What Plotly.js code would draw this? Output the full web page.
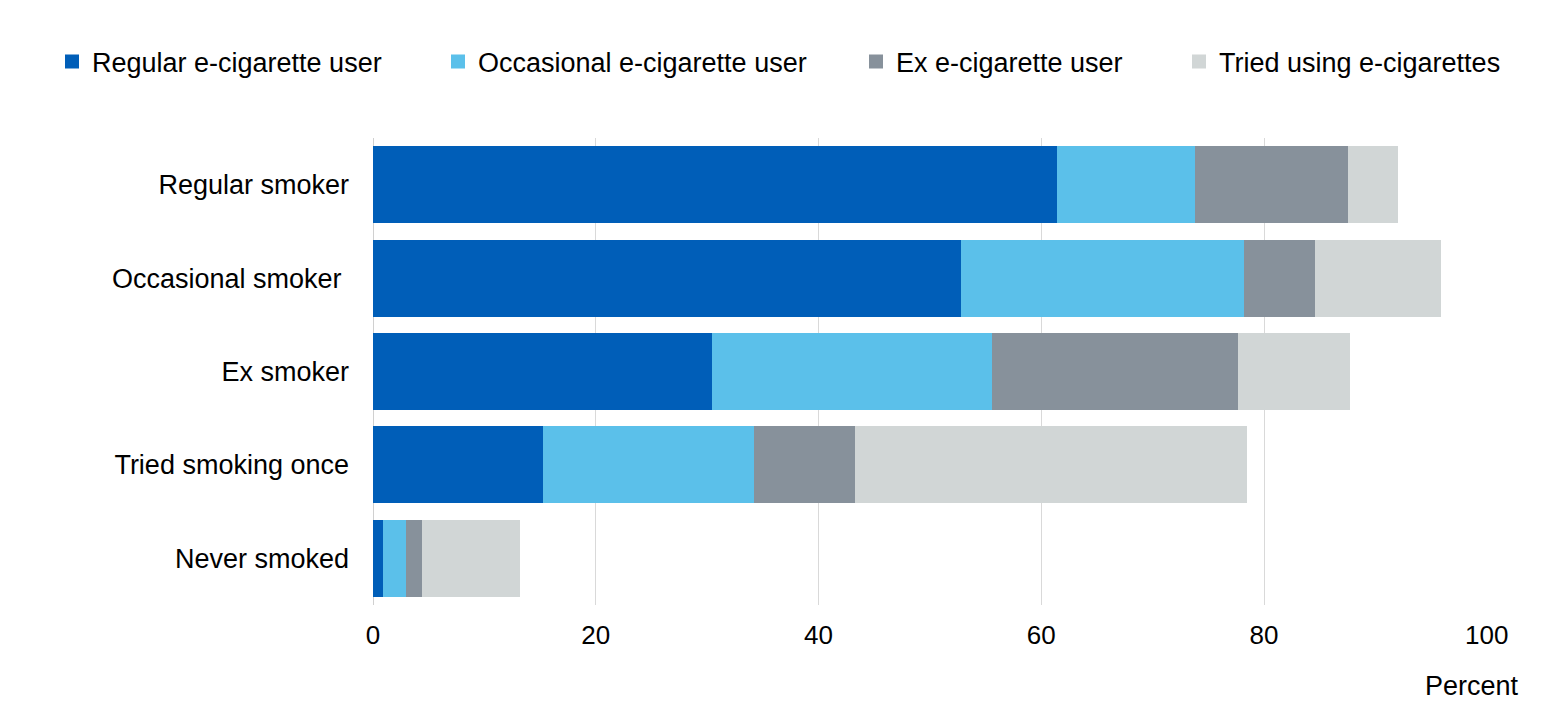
<!DOCTYPE html>
<html>
<head>
<meta charset="utf-8">
<script src="https://cdn.plot.ly/plotly-3.0.1.min.js"></script>
<style>html,body{margin:0;padding:0;background:#fff;}#chart{width:1559px;height:715px;}</style>
</head>
<body>
<div id="chart"></div>
<script>
const categories = ["Regular smoker", "Occasional smoker\u00a0", "Ex smoker", "Tried smoking once", "Never smoked"];
const seriesNames = ["Regular e-cigarette user", "Occasional e-cigarette user", "Ex e-cigarette user", "Tried using e-cigarettes"];
const regularUser    = [61.4, 52.8, 30.4, 15.3, 0.9];
const occasionalUser = [12.4, 25.4, 25.2, 18.9, 2.1];
const exUser         = [13.7, 6.4, 22.1, 9.1, 1.4];
const triedUser      = [4.5, 11.3, 10.0, 35.2, 8.8];
const xTicks = [0, 20, 40, 60, 80, 100];

const colors = ["#005EB8", "#5BC0EA", "#87919B", "#D1D6D6"];
const values = [regularUser, occasionalUser, exUser, triedUser];
const legendIds = ["legend", "legend2", "legend3", "legend4"];
const markerLeftPx = [70, 456, 874, 1197];

const plotLeft = 373, plotWidth = 1114, plotTop = 138, plotHeight = 467;

const barTraces = values.map((v, i) => ({
  type: "bar",
  orientation: "h",
  name: seriesNames[i],
  y: categories,
  x: v,
  marker: {color: colors[i], line: {width: 0}},
  showlegend: false,
  hovertemplate: "%{y}: %{x}<extra>" + seriesNames[i] + "</extra>"
}));

// legend-only entries with larger square swatches
const legendTraces = seriesNames.map((n, i) => ({
  type: "scatter",
  mode: "markers",
  name: n,
  x: [null],
  y: [null],
  marker: {symbol: "square", size: 14, color: colors[i], line: {width: 0}},
  legend: legendIds[i],
  showlegend: true,
  hoverinfo: "skip"
}));

const font = {family: "Liberation Sans, Arial, sans-serif", size: 27, color: "#000"};
const tickFont = {family: "Liberation Sans, Arial, sans-serif", size: 26, color: "#000"};

const layout = {
  width: 1559, height: 715,
  margin: {l: plotLeft, r: 1559 - plotLeft - plotWidth, t: plotTop, b: 715 - plotTop - plotHeight, pad: 0},
  paper_bgcolor: "#fff", plot_bgcolor: "#fff",
  barmode: "stack",
  bargap: 0.175,
  font: font,
  showlegend: true,
  xaxis: {
    range: [0, 100.02],
    tickvals: xTicks,
    ticktext: xTicks.map(String),
    showgrid: true, gridcolor: "#D9D9D9", gridwidth: 1,
    zeroline: true, zerolinecolor: "#D0D0D0", zerolinewidth: 1,
    showline: false, ticks: "",
    ticklabelstandoff: 12,
    tickfont: tickFont,
    fixedrange: true
  },
  yaxis: {
    categoryorder: "array",
    categoryarray: categories,
    autorange: "reversed",
    showgrid: false, zeroline: false, showline: false, ticks: "",
    ticklabelstandoff: 23,
    tickfont: font,
    fixedrange: true
  },
  annotations: [{
    text: "Percent", xref: "paper", yref: "paper",
    x: (1521 - plotLeft) / plotWidth, y: (plotTop + plotHeight - 686) / plotHeight,
    xanchor: "right", yanchor: "middle", showarrow: false, font: font
  }]
};

legendIds.forEach((id, i) => {
  layout[id] = {
    orientation: "h",
    x: (markerLeftPx[i] - 18 - plotLeft) / plotWidth,
    xanchor: "left",
    y: (plotTop + plotHeight - 62) / plotHeight,
    yanchor: "middle",
    font: font,
    bgcolor: "rgba(0,0,0,0)",
    borderwidth: 0,
    itemclick: false, itemdoubleclick: false
  };
});

Plotly.newPlot("chart", barTraces.concat(legendTraces), layout, {displayModeBar: false, staticPlot: true});
</script>
</body>
</html>
